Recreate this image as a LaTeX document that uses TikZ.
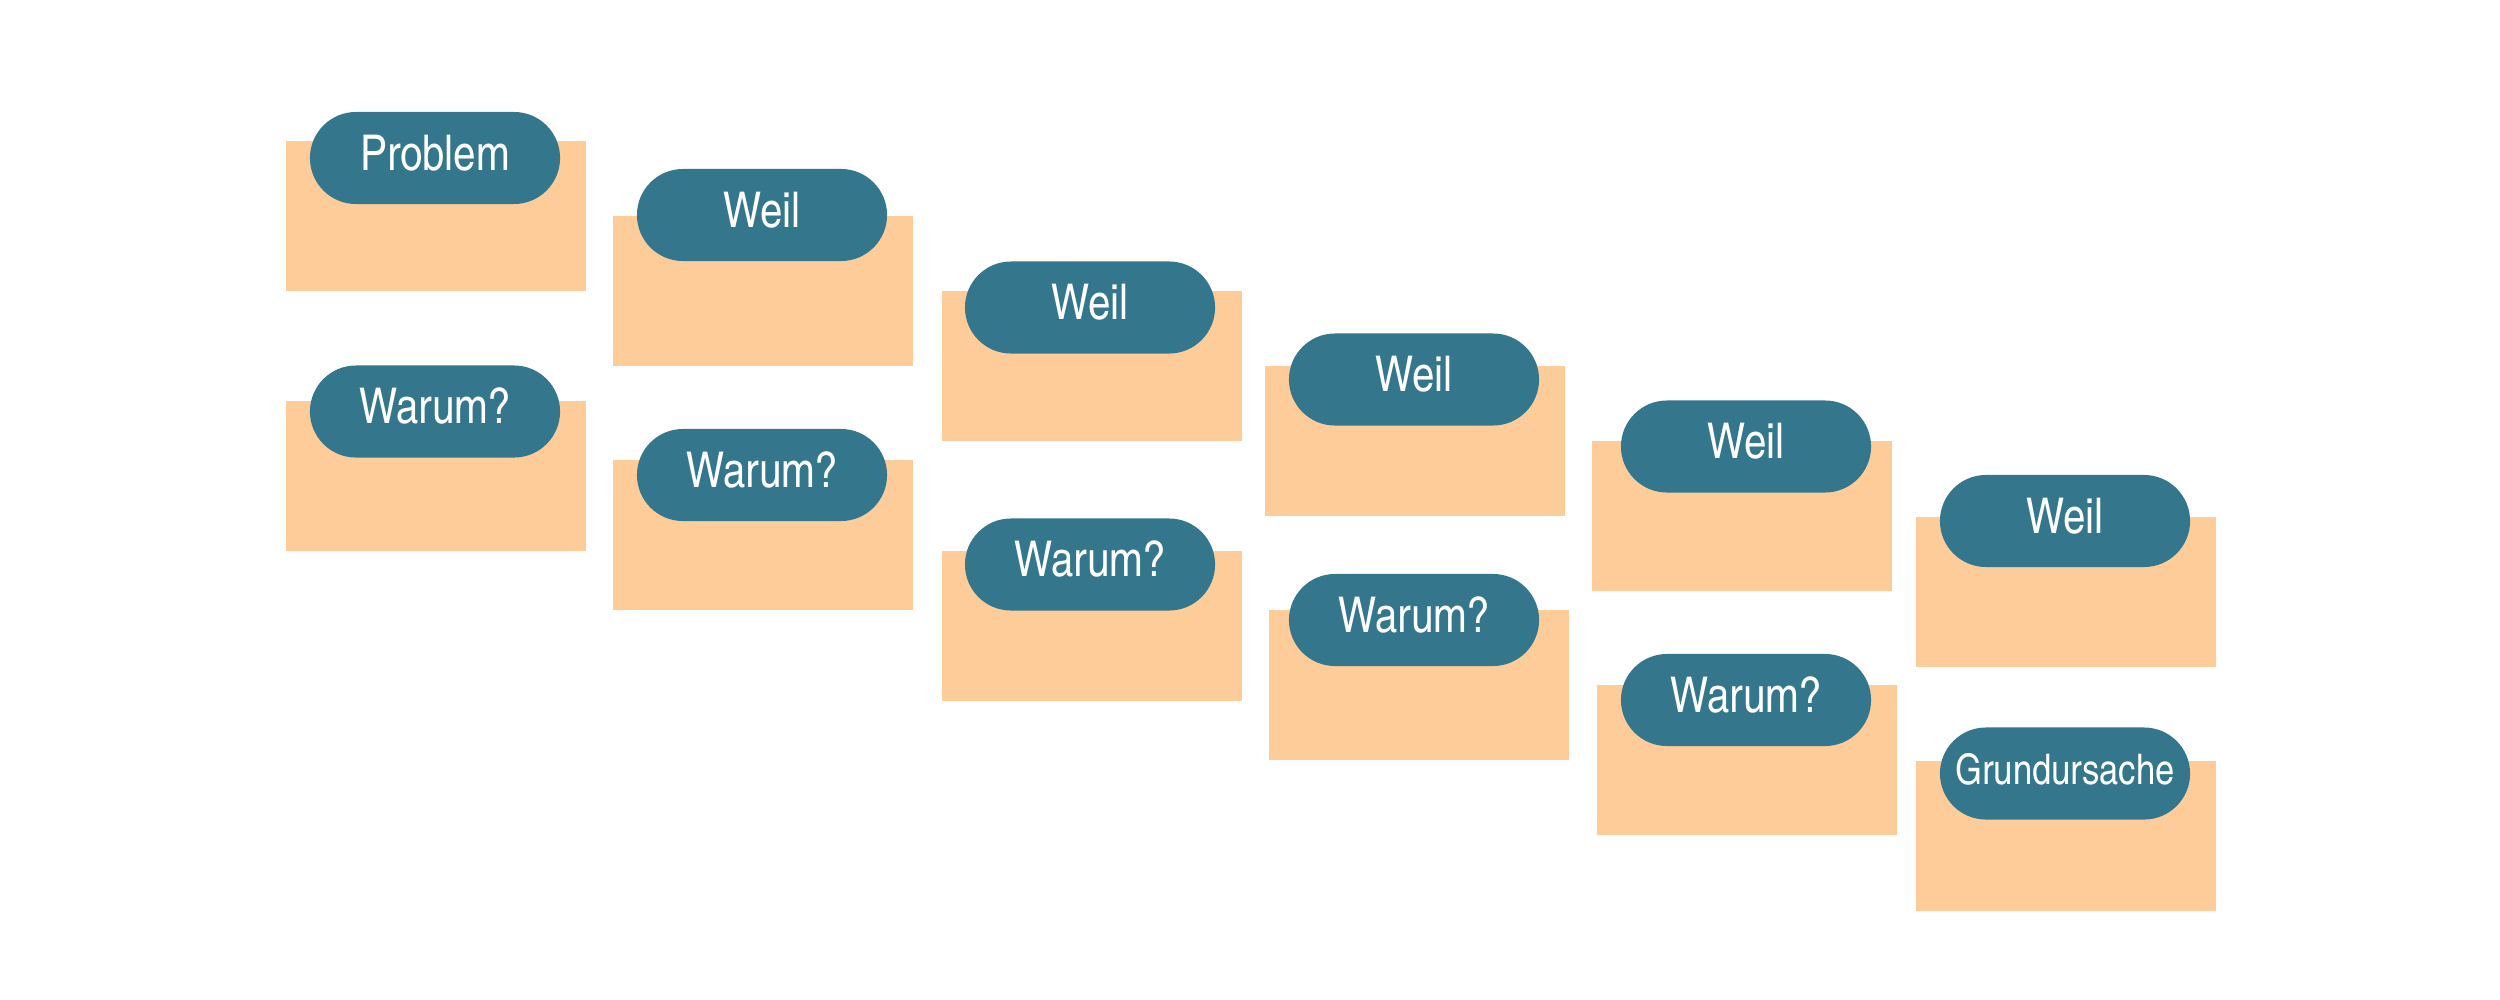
\documentclass[tikz,border=0pt]{standalone}
\usepackage{fontspec}
\setmainfont{texgyreheroscn-regular.otf}
\definecolor{peach}{RGB}{253,204,153}
\definecolor{teal}{RGB}{52,119,140}
\tikzset{
  card/.style={fill=peach,inner sep=0pt,minimum width=3cm,minimum height=1.5cm,anchor=north west},
  pill/.style={fill=teal,text=white,rounded corners=0.46cm,inner sep=0pt,minimum width=2.5cm,minimum height=0.92cm,text height=0.34cm,text depth=0.1cm,font=\fontsize{14}{16}\selectfont}
}
\begin{document}
\begin{tikzpicture}[x=0.01cm,y=-0.01cm]
\useasboundingbox (0,0) rectangle (2500,1000);
% cards and labels, column by column
\foreach \i/\cx/\cy/\px/\py/\txt in {1/285/140/435/158/Problem,2/285/400/435/411.5/Warum?,3/612/215/762/215/Weil,4/612/459/762/475/Warum?,5/941/290/1090/307.5/Weil,6/941/550/1090/564.5/Warum?,7/1264/365/1414/379.5/Weil,8/1268/609/1414/620/Warum?,9/1591/440/1746/446.5/Weil,10/1596/684/1746/700/Warum?,11/1915/516/2065/521/Weil}{
  \node[card] (c\i) at (\cx,\cy) {};
  \node[pill] (p\i) at (\px,\py) {\txt};
}
\node[card] (c12) at (1915,760) {};
\node[pill,font=\fontsize{12}{14}\selectfont,text height=0.29cm,text depth=0.08cm] (p12) at (2065,773.5) {Grundursache};
\end{tikzpicture}
\end{document}
